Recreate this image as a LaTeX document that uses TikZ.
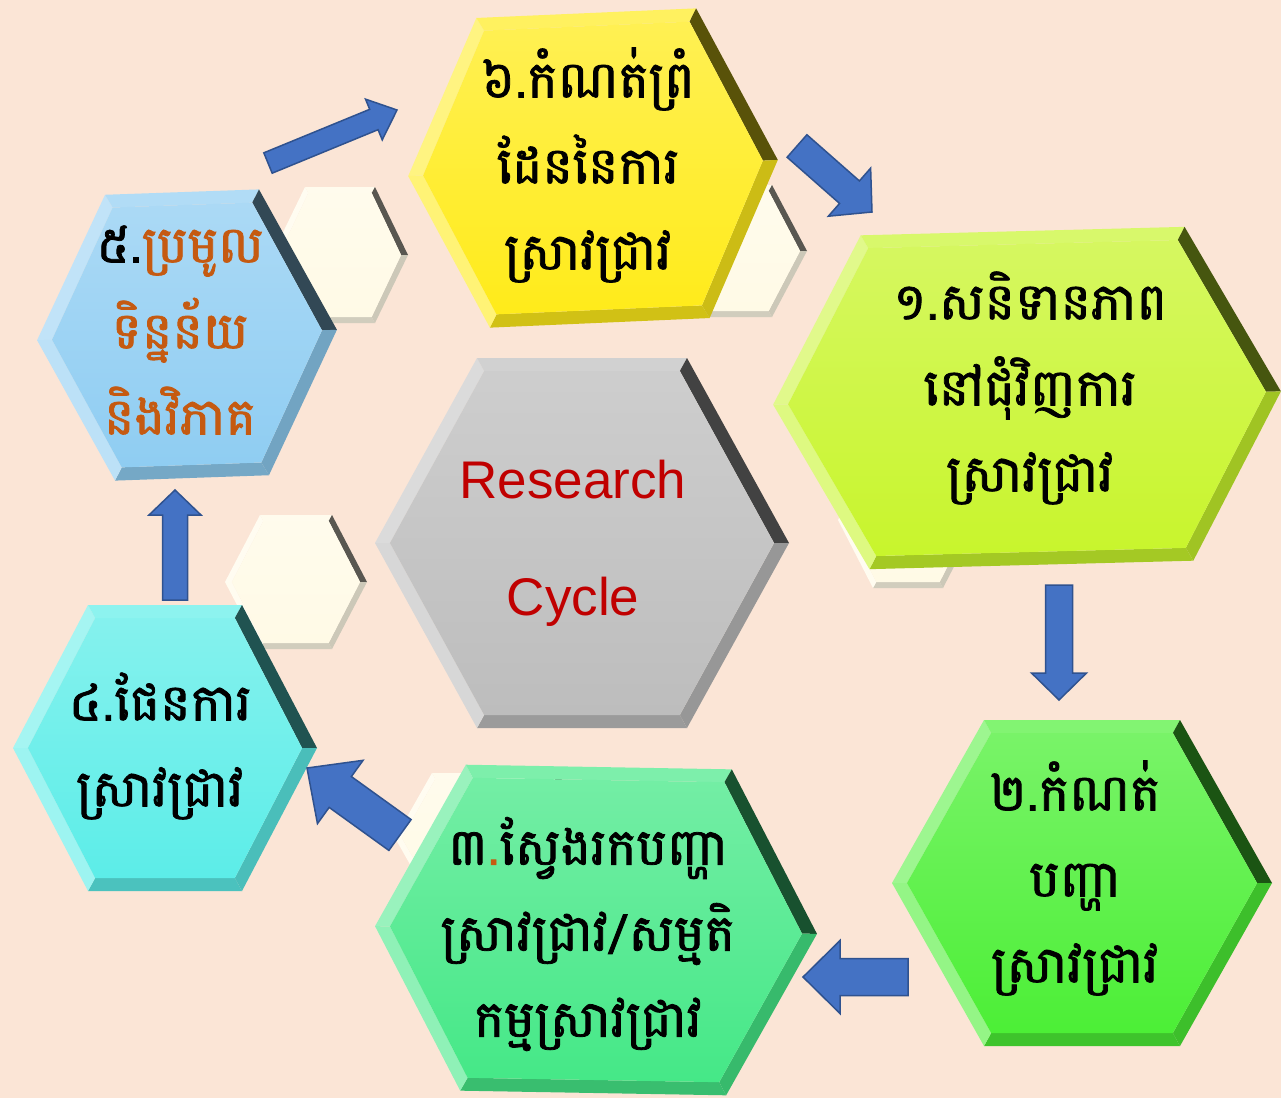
\documentclass[tikz,border=0pt]{standalone}
\usepackage{fontspec}
\newfontfamily\khmerfont[Script=Khmer, FakeBold=1.5]{Battambang}
\newfontfamily\arialfont{Liberation Sans}
\usetikzlibrary{calc}
\usetikzlibrary{positioning}

\definecolor{bgpeach}{HTML}{FBE5D6}
\definecolor{arrowblue}{HTML}{4472C4}
\definecolor{arrowedge}{HTML}{2F528F}
\definecolor{hexyellow}{HTML}{FFEB1A}
\definecolor{hexlime}{HTML}{C8F52C}
\definecolor{hexsky}{HTML}{8FCDF2}
\definecolor{hexcyan}{HTML}{5CEDE8}
\definecolor{hexmint}{HTML}{45E887}
\definecolor{hexgreen}{HTML}{4CEF36}
\definecolor{hexgrey}{HTML}{BDBDBD}
\definecolor{hexcream}{HTML}{FFFAE6}
\definecolor{textorange}{HTML}{C55A11}
\definecolor{textred}{HTML}{C00000}

\tikzset{
  khtext/.style={align=center, inner sep=0pt, font=\khmerfont\fontsize{51}{86}\selectfont},
  entext/.style={align=center, inner sep=0pt, text=textred, font=\arialfont\fontsize{53}{117}\selectfont},
  blockarr/.style={fill=arrowblue, draw=arrowedge, line width=1.5pt, line join=miter}
}

% hexagon: x, y, half width, half top edge, half height, rotation, colour, bevel
\newcommand{\hexa}[8]{%
  \begin{scope}[shift={(#1,#2)}, rotate=#6]
    \coordinate (hL) at (-#3,0);   \coordinate (hTL) at (-#4,-#5); \coordinate (hTR) at (#4,-#5);
    \coordinate (hR) at (#3,0);    \coordinate (hBR) at (#4,#5);   \coordinate (hBL) at (-#4,#5);
    \coordinate (iL) at ({-#3+1.15*#8},0);        \coordinate (iTL) at ({-#4+0.55*#8},{-#5+#8});
    \coordinate (iTR) at ({#4-0.55*#8},{-#5+#8}); \coordinate (iR) at ({#3-1.15*#8},0);
    \coordinate (iBR) at ({#4-0.55*#8},{#5-#8});  \coordinate (iBL) at ({-#4+0.55*#8},{#5-#8});
    % bevel
    \fill[#7!55!white] (hL) -- (hTL) -- (iTL) -- (iL) -- cycle;
    \fill[#7!70!white] (hTL) -- (hTR) -- (iTR) -- (iTL) -- cycle;
    \fill[#7!35!black] (hTR) -- (hR) -- (iR) -- (iTR) -- cycle;
    \fill[#7!80!black] (hR) -- (hBR) -- (iBR) -- (iR) -- cycle;
    \fill[#7!82!black] (hBR) -- (hBL) -- (iBL) -- (iBR) -- cycle;
    \fill[#7!60!white] (hBL) -- (hL) -- (iL) -- (iBL) -- cycle;
    % face
    \shade[top color=#7!75!white, bottom color=#7] (iL) -- (iTL) -- (iTR) -- (iR) -- (iBR) -- (iBL) -- cycle;
  \end{scope}}

% block arrow: tail, tip, half shaft, half head, head length
\newcommand{\blockarrow}[5]{%
  \coordinate (ab) at ($(#2)!#5pt!(#1)$);
  \draw[blockarr] ($(#1)!#3pt!90:(#2)$) -- ($(ab)!#3pt!90:(#2)$) -- ($(ab)!#4pt!90:(#2)$)
    -- (#2) -- ($(ab)!#4pt!-90:(#2)$) -- ($(ab)!#3pt!-90:(#2)$) -- ($(#1)!#3pt!-90:(#2)$) -- cycle;}

\begin{document}
\begin{tikzpicture}[x=1pt, y=-1pt]
  \fill[bgpeach] (0,0) rectangle (1281,1098);
  \clip (0,0) rectangle (1281,1098);

  % small cream hexagons
  \foreach \x/\y/\a/\b/\c in {340/255/68/35/68, 737/251/70/35/66, 296/582/71/36/67, 495/838/100/63/65, 908/520/70/35/68}
    \hexa{\x}{\y}{\a}{\b}{\c}{0}{hexcream}{6};

  % steps and centre
  \foreach \x/\y/\a/\b/\c/\r/\col in {593/168/185/110/155/2.5/hexyellow, 1027/398/254/162/167/1.5/hexlime,
      187/335/150/77/143/2/hexsky, 165/748/152/77/143/0/hexcyan, 596/930/221/133/163/-1/hexmint,
      1082/883/190/98/163/0/hexgreen, 582/543/207/105/185/0/hexgrey}
    \hexa{\x}{\y}{\a}{\b}{\c}{\r}{\col}{13};

  % arrow ends
  \coordinate (t56) at (268,163); \coordinate (h56) at (397,110);
  \coordinate (t61) at (797,146); \coordinate (h61) at (872,212);
  \coordinate (t12) at (1059,585); \coordinate (h12) at (1059,700);
  \coordinate (t23) at (908,977); \coordinate (h23) at (803,977);
  \coordinate (t34) at (400,835); \coordinate (h34) at (307,768);
  \coordinate (t45) at (175,600); \coordinate (h45) at (175,490);

  \foreach \s/\e/\w/\h/\l in {t56/h56/11/22/25, t61/h61/15/32/30, t12/h12/13.5/27.5/27,
      t23/h23/18.5/36.5/37, t34/h34/19/39/41, t45/h45/12.5/26/25}
    \blockarrow{\s}{\e}{\w}{\h}{\l};

  % texts
  \node[khtext] (n6) at (588,165) {៦.កំណត់ព្រំ\\ដែននៃការ\\ស្រាវជ្រាវ};
  \node[khtext] (n1) at (1030,388) {១.សនិទានភាព\\នៅជុំវិញការ\\ស្រាវជ្រាវ};
  \node[khtext] (n2) at (1075,878) {២.កំណត់\\បញ្ហា\\ស្រាវជ្រាវ};
  \node[khtext] (n3) at (588,934) {៣{\color{textorange}.}ស្វែងរកបញ្ហា\\ស្រាវជ្រាវ/សម្មតិ\\កម្មស្រាវជ្រាវ};
  \node[khtext] (n4) at (160,746) {៤.ផែនការ\\ស្រាវជ្រាវ};
  \node[khtext, text=textorange] (n5) at (180,330) {{\color{black}៥.}ប្រមូល\\ទិន្នន័យ\\និងវិភាគ};
  \node[entext] (core) at (573,543) {Research\\Cycle};
\end{tikzpicture}
\end{document}
